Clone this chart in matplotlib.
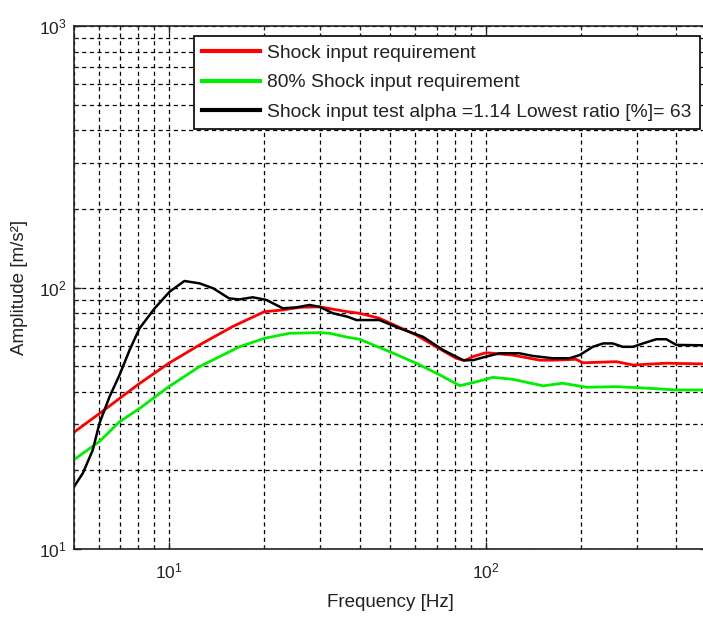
import matplotlib
matplotlib.use("Agg")
import matplotlib.pyplot as plt
import numpy as np

plt.rcParams['font.family'] = ['Liberation Sans', 'DejaVu Sans']
plt.rcParams['mathtext.fontset'] = 'custom'
plt.rcParams['mathtext.rm'] = 'Liberation Sans'
plt.rcParams['mathtext.it'] = 'Liberation Sans'
plt.rcParams['lines.scale_dashes'] = False

# Shock input requirement (red)
req_f = [5.0, 6.04, 8.08, 10.0, 12.5, 15.9, 20.0, 22.9, 25.9, 29.9, 36.7, 40.0, 46.2,
         60.4, 69.8, 80.7, 85.9, 91.3, 100.4, 121.9, 148.2, 163, 193, 203, 259, 292, 372, 485, 500]
req_a = [27.9, 33.0, 43.0, 51.4, 60.4, 71.0, 80.9, 82.2, 84.1, 84.5, 80.9, 79.8, 76.4,
         65.9, 59.4, 53.7, 52.6, 54.5, 56.4, 55.2, 52.8, 52.8, 53.2, 51.6, 52.1, 50.6, 51.4, 51.1, 51.1]

# 80% Shock input requirement (green)
req80_f = [5.0, 6.04, 6.99, 8.08, 10.0, 12.5, 16.7, 20.0, 24.0, 29.9, 32.2, 36.7, 40.0, 49.8,
           60.4, 71.6, 82.8, 91.3, 105.5, 121.9, 152, 175, 208, 259, 330, 400, 485, 500]
req80_a = [21.9, 25.8, 30.7, 34.5, 41.8, 49.9, 59.4, 64.0, 66.9, 67.3, 66.9, 64.6, 63.5, 56.9,
           51.4, 46.4, 42.2, 43.3, 45.4, 44.6, 42.1, 43.1, 41.6, 41.8, 41.2, 40.6, 40.6, 40.6]

# Shock input test (black)
test_f = [5.0, 5.35, 5.75, 6.04, 6.50, 6.99, 7.52, 8.08, 9.02, 10.06, 11.2, 12.5, 13.8, 15.5,
          16.7, 18.4, 20.3, 22.9, 25.3, 27.8, 29.9, 33.0, 36.7, 39.1, 43.1, 46.2, 53.6, 63.4,
          73.3, 84.9, 91.3, 100.4, 110.7, 128, 141, 163, 184, 198, 218, 235, 252, 271, 292,
          314, 346, 372, 400, 485, 500]
test_a = [17.2, 19.5, 23.9, 30.3, 38.3, 46.4, 57.8, 69.9, 83.4, 96.6, 106.1, 103.9, 99.5, 91.0,
          90.2, 91.9, 89.8, 83.4, 84.1, 85.9, 84.5, 79.8, 77.4, 75.2, 75.2, 75.2, 69.9, 64.9,
          57.8, 52.8, 52.8, 54.5, 56.1, 56.1, 54.8, 53.7, 53.7, 55.2, 59.4, 61.2, 61.2, 59.4, 59.4,
          61.2, 63.5, 63.5, 60.4, 60.2, 60.2]

labels = ["Shock input requirement",
          "80% Shock input requirement",
          "Shock input test alpha =1.14 Lowest ratio [%]= 63"]

W, H = 703, 617
fig = plt.figure(figsize=(W / 100, H / 100), dpi=100)
left, right, top, bottom = 73.5, 707, 26.4, 549
ax = fig.add_axes([left / W, 1 - bottom / H, (right - left) / W, (bottom - top) / H])

ax.plot(req_f, req_a, color='#ff0000', lw=2.0, label=labels[0])
ax.plot(req80_f, req80_a, color='#00ee00', lw=2.0, label=labels[1])
ax.plot(test_f, test_a, color='black', lw=1.8, label=labels[2])

ax.set_xscale('log')
ax.set_yscale('log')
ax.set_xlim(5, 500)
ax.set_ylim(10, 1000)

ax.grid(True, which='both', color='black', linestyle=(0, (3.0, 2.5)), lw=0.9)
ax.tick_params(which='both', direction='in', top=True, right=True, labelsize=12.5,
               colors='#222222')
ax.tick_params(which='major', length=5, width=1)
ax.tick_params(which='minor', length=3, width=0.8)
ax.tick_params(axis='y', pad=5)
ax.tick_params(axis='x', pad=9)
for s in ax.spines.values():
    s.set_linewidth(1.2)
    s.set_color('#222222')

ax.set_xlabel('Frequency [Hz]', fontsize=13.5, labelpad=9, color='#222222')
ax.set_ylabel('Amplitude [m/s²]', fontsize=13.5, labelpad=8, color='#222222')

leg = ax.legend(loc='upper right', bbox_to_anchor=(700 / W, 1 - 36 / H),
                bbox_transform=fig.transFigure, borderaxespad=0, fontsize=13.9,
                fancybox=False, framealpha=1, edgecolor='black', handlelength=3.0,
                handletextpad=0.34, labelspacing=0.61, borderpad=0.45)
leg.get_frame().set_linewidth(1.2)
for t in leg.get_texts():
    t.set_color('#222222')
for l in leg.get_lines():
    l.set_linewidth(3)

fig.savefig('out.png', dpi=100)
